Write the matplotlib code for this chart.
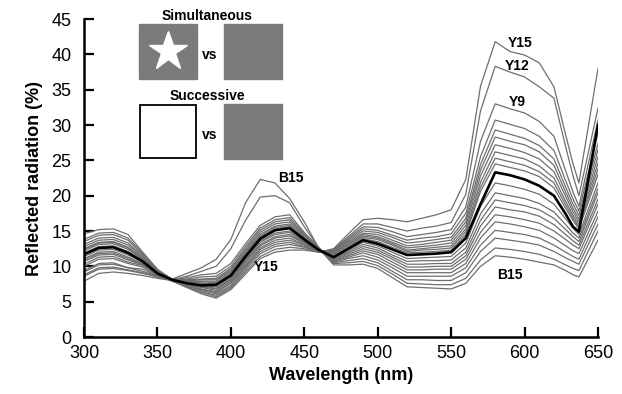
#!/usr/bin/env python3
import matplotlib
matplotlib.use("Agg")
import matplotlib.pyplot as plt
from matplotlib.patches import Rectangle
from matplotlib.lines import Line2D

plt.rcParams.update({"font.family": ["Liberation Sans", "DejaVu Sans"], "font.size": 13})

# wavelength grid (nm)
WAVELENGTH = [300, 310, 320, 330, 340, 350, 360, 370, 380, 390, 400, 410, 420, 430, 440,
              450, 460, 470, 480, 490, 500, 510, 520, 530, 540, 550, 560, 570, 580, 590,
              600, 610, 620, 628, 633, 637, 650]

# curves brighter than the reference at 580 nm (Y15 first)
YELLOW_SIDE = [
    [12.5, 13.4, 13.5, 12.7, 11.1, 9.2, 7.9, 7.0, 6.1, 5.5, 6.7, 8.9, 11.1, 12.0, 12.3,
     12.3, 12.0, 12.5, 14.6, 16.6, 16.8, 16.6, 16.3, 16.8, 17.3, 18.0, 22.3, 35.5, 41.8, 40.4,
     39.9, 38.8, 35.4, 28.6, 24.5, 21.8, 38.0],
    [14.6, 15.2, 15.3, 14.5, 12.0, 9.6, 8.1, 7.1, 6.3, 5.7, 6.9, 9.2, 11.4, 12.4, 12.7,
     12.5, 12.0, 12.4, 14.2, 16.0, 16.0, 15.5, 15.0, 15.4, 15.7, 16.2, 20.2, 32.0, 38.3, 37.5,
     36.8, 35.4, 33.8, 26.9, 22.8, 20.0, 32.4],
    [11.1, 12.0, 12.1, 11.3, 10.4, 8.9, 8.0, 7.2, 6.4, 5.9, 7.1, 9.5, 11.8, 12.8, 13.1,
     12.7, 12.1, 12.3, 14.0, 15.6, 15.5, 14.9, 14.2, 14.5, 14.8, 15.2, 18.4, 27.7, 33.0, 32.3,
     31.7, 30.5, 28.4, 23.5, 20.5, 18.5, 30.7],
    [13.5, 14.4, 14.5, 13.7, 11.6, 9.4, 8.1, 7.2, 6.6, 6.1, 7.3, 9.8, 12.1, 13.1, 13.4,
     12.8, 12.1, 12.2, 13.8, 15.3, 15.1, 14.4, 13.7, 14.0, 14.2, 14.6, 17.5, 25.5, 30.7, 30.1,
     29.5, 28.4, 26.4, 22.1, 19.5, 17.8, 28.9],
    [10.3, 11.3, 11.4, 10.6, 10.1, 8.8, 7.9, 7.3, 6.7, 6.3, 7.6, 10.0, 12.4, 13.4, 13.7,
     13.0, 12.1, 12.1, 13.6, 15.0, 14.8, 14.1, 13.3, 13.5, 13.8, 14.1, 16.8, 24.4, 29.3, 28.7,
     28.1, 27.1, 25.2, 21.2, 18.8, 17.2, 27.4],
    [12.8, 13.7, 13.8, 13.0, 11.3, 9.3, 8.0, 7.4, 6.8, 6.4, 7.7, 10.2, 12.6, 13.7, 14.0,
     13.1, 12.2, 12.0, 13.4, 14.7, 14.5, 13.7, 12.9, 13.1, 13.4, 13.7, 16.3, 23.6, 28.3, 27.7,
     27.2, 26.2, 24.3, 20.5, 18.2, 16.7, 26.5],
    [9.4, 10.4, 10.5, 9.8, 9.6, 8.6, 7.9, 7.4, 7.0, 6.6, 7.9, 10.5, 12.9, 14.0, 14.3,
     13.3, 12.2, 11.9, 13.2, 14.5, 14.2, 13.4, 12.6, 12.8, 13.0, 13.3, 15.8, 22.8, 27.2, 26.7,
     26.1, 25.2, 23.4, 19.9, 17.7, 16.3, 25.5],
    [13.1, 14.0, 14.1, 13.3, 11.4, 9.3, 8.1, 7.5, 7.1, 6.8, 8.1, 10.7, 13.1, 14.2, 14.5,
     13.4, 12.2, 11.8, 13.1, 14.3, 14.0, 13.2, 12.3, 12.5, 12.7, 12.9, 15.3, 21.9, 26.2, 25.7,
     25.2, 24.2, 22.5, 19.2, 17.2, 15.9, 24.6],
    [10.9, 11.8, 11.9, 11.1, 10.3, 8.9, 8.0, 7.6, 7.2, 6.9, 8.2, 10.9, 13.4, 14.5, 14.8,
     13.5, 12.2, 11.7, 12.9, 14.1, 13.8, 13.0, 12.1, 12.3, 12.4, 12.6, 14.9, 21.2, 25.3, 24.8,
     24.3, 23.4, 21.8, 18.7, 16.8, 15.6, 23.8],
    [7.9, 9.0, 9.2, 9.0, 8.7, 8.3, 8.0, 7.6, 7.3, 7.1, 8.4, 11.1, 13.6, 14.7, 15.0,
     13.6, 12.3, 11.5, 12.7, 13.9, 13.5, 12.7, 11.9, 12.0, 12.1, 12.3, 14.5, 20.6, 24.5, 24.0,
     23.5, 22.7, 21.1, 18.2, 16.5, 15.3, 23.0],
]

# reference (thick black) curve
REFERENCE = [11.7, 12.6, 12.7, 11.9, 10.7, 9.0, 8.1, 7.6, 7.3, 7.4, 8.7, 11.4, 13.9, 15.1, 15.4,
             13.8, 12.3, 11.3, 12.5, 13.7, 13.2, 12.4, 11.6, 11.7, 11.8, 12.0, 14.0, 18.8, 23.3, 22.9,
             22.3, 21.4, 20.0, 17.4, 15.6, 14.9, 30.0]

# curves darker than the reference at 580 nm (B15 last)
BLUE_SIDE = [
    [12.2, 13.1, 13.2, 12.4, 11.0, 9.1, 8.1, 7.8, 7.6, 7.4, 8.8, 11.5, 14.0, 15.2, 15.5,
     13.9, 12.3, 11.2, 12.3, 13.4, 12.9, 12.0, 11.1, 11.2, 11.3, 11.4, 13.3, 18.5, 21.8, 21.4,
     20.9, 20.2, 18.8, 16.7, 15.4, 14.5, 21.8],
    [8.8, 9.8, 9.9, 9.5, 9.1, 8.5, 8.0, 7.8, 7.6, 7.5, 8.9, 11.6, 14.1, 15.3, 15.6,
     13.9, 12.3, 11.1, 12.1, 13.1, 12.6, 11.6, 10.7, 10.8, 10.8, 10.9, 12.6, 17.4, 20.4, 20.0,
     19.6, 18.9, 17.7, 15.9, 14.7, 14.0, 21.0],
    [13.8, 14.7, 14.8, 14.0, 11.8, 9.5, 8.2, 7.9, 7.8, 7.7, 9.1, 11.8, 14.3, 15.5, 15.8,
     14.0, 12.4, 11.0, 11.9, 12.8, 12.3, 11.3, 10.3, 10.3, 10.4, 10.4, 12.0, 16.5, 19.4, 19.0,
     18.6, 18.0, 16.8, 15.2, 14.2, 13.5, 20.4],
    [10.0, 11.0, 11.1, 10.4, 9.9, 8.7, 8.0, 8.0, 7.9, 7.9, 9.3, 12.0, 14.5, 15.7, 16.0,
     14.1, 12.4, 10.9, 11.7, 12.5, 12.0, 11.0, 9.9, 9.9, 10.0, 10.0, 11.5, 15.7, 18.4, 18.0,
     17.7, 17.1, 15.9, 14.5, 13.6, 13.0, 19.5],
    [11.9, 12.8, 12.9, 12.1, 10.8, 9.1, 8.1, 8.0, 8.1, 8.1, 9.5, 12.2, 14.8, 16.0, 16.3,
     14.3, 12.5, 10.8, 11.5, 12.2, 11.7, 10.6, 9.5, 9.5, 9.6, 9.6, 11.0, 14.8, 17.3, 17.0,
     16.6, 16.1, 15.0, 13.8, 13.0, 12.5, 18.8],
    [8.6, 9.6, 9.7, 9.4, 9.0, 8.5, 8.0, 8.1, 8.2, 8.3, 9.7, 12.5, 15.1, 16.3, 16.6,
     14.4, 12.5, 10.7, 11.3, 11.9, 11.3, 10.2, 9.1, 9.1, 9.1, 9.1, 10.4, 14.0, 16.3, 16.0,
     15.6, 15.1, 14.0, 12.9, 12.2, 11.8, 17.8],
    [11.4, 12.3, 12.4, 11.6, 10.6, 9.0, 8.1, 8.2, 8.5, 8.6, 10.0, 12.8, 15.4, 16.6, 16.9,
     14.6, 12.6, 10.6, 11.1, 11.5, 10.9, 9.8, 8.6, 8.6, 8.6, 8.6, 9.8, 13.0, 15.1, 14.8,
     14.5, 14.0, 13.0, 12.0, 11.4, 11.0, 17.0],
    [10.7, 11.6, 11.7, 10.9, 10.2, 8.8, 8.0, 8.4, 8.8, 9.0, 10.4, 13.2, 15.8, 17.0, 17.3,
     14.8, 12.6, 10.5, 10.8, 11.1, 10.5, 9.3, 8.1, 8.1, 8.0, 8.0, 9.1, 12.1, 14.0, 13.7,
     13.4, 13.0, 12.1, 11.2, 10.7, 10.3, 16.0],
    [9.2, 10.2, 10.3, 9.8, 9.3, 8.6, 8.1, 8.6, 9.3, 10.0, 12.5, 16.5, 19.8, 20.0, 19.0,
     15.6, 12.6, 10.4, 10.5, 10.7, 10.1, 8.9, 7.6, 7.5, 7.4, 7.4, 8.3, 10.9, 12.6, 12.4,
     12.1, 11.7, 11.0, 10.2, 9.7, 9.4, 15.0],
    [12.4, 13.3, 13.4, 12.6, 11.0, 9.2, 8.2, 9.0, 9.8, 11.0, 13.8, 19.0, 22.3, 21.8, 19.6,
     16.3, 12.5, 10.2, 10.2, 10.3, 9.7, 8.4, 7.1, 7.0, 6.9, 6.8, 7.6, 10.0, 11.5, 11.3,
     11.0, 10.6, 10.2, 9.4, 8.8, 8.5, 13.7],
]

# curve labels: (text, wavelength, reflectance)
CURVE_LABELS = [("Y15", 597, 41.6), ("Y12", 595, 38.3), ("Y9", 595, 33.3),
                ("B15", 590, 8.8), ("B15", 441, 22.5), ("Y15", 424, 9.9)]

W, H = 622, 394
fig = plt.figure(figsize=(W / 100, H / 100), dpi=100)
ax = fig.add_axes([84 / W, 57 / H, 514 / W, 318 / H])

for spec in YELLOW_SIDE + BLUE_SIDE:
    ax.plot(WAVELENGTH, spec, color="#6e6e6e", lw=0.9)
ax.plot(WAVELENGTH, REFERENCE, color="black", lw=1.9, zorder=3)

for txt, x, y in CURVE_LABELS:
    ax.text(x, y, txt, fontsize=10, fontweight="bold", ha="center", va="center")

ax.set_xlim(300, 650)
ax.set_ylim(0, 45)
ax.set_xticks(range(300, 651, 50))
ax.set_yticks(range(0, 46, 5))
for s in ("top", "right"):
    ax.spines[s].set_visible(False)
for s in ("left", "bottom"):
    ax.spines[s].set_linewidth(1.8)
ax.tick_params(direction="in", length=7, width=1.6, labelsize=13)
ax.tick_params(axis="x", pad=6)
ax.tick_params(axis="y", pad=9)
ax.set_xlabel("Wavelength (nm)", fontweight="bold", fontsize=13, labelpad=3)
ax.set_ylabel("Reflected radiation (%)", fontweight="bold", fontsize=13, labelpad=6)

# inset: stimulus sketch (figure pixel coordinates, origin top-left)
def fx(px):
    return px / W

def fy(py):
    return 1 - py / H

GRAY = "#7b7b7b"
fig.add_artist(Rectangle((fx(139), fy(79)), 58 / W, 55 / H, transform=fig.transFigure,
                         facecolor=GRAY, edgecolor=GRAY))
fig.add_artist(Rectangle((fx(224), fy(79)), 58 / W, 55 / H, transform=fig.transFigure,
                         facecolor=GRAY, edgecolor=GRAY))
fig.add_artist(Line2D([fx(168)], [fy(51)], transform=fig.transFigure, marker="*",
                      ms=29.5, color="white", mec="white", lw=0))
fig.add_artist(Rectangle((fx(140), fy(158)), 56 / W, 53 / H, transform=fig.transFigure,
                         facecolor="white", edgecolor="black", lw=1.3))
fig.add_artist(Rectangle((fx(224), fy(159)), 58 / W, 55 / H, transform=fig.transFigure,
                         facecolor=GRAY, edgecolor=GRAY))
fig.text(fx(207), fy(16), "Simultaneous", fontsize=10, fontweight="bold", ha="center", va="center")
fig.text(fx(207), fy(96), "Successive", fontsize=10, fontweight="bold", ha="center", va="center")
fig.text(fx(210), fy(55), "vs", fontsize=10, fontweight="bold", ha="center", va="center")
fig.text(fx(210), fy(135), "vs", fontsize=10, fontweight="bold", ha="center", va="center")

fig.savefig("out.png", dpi=100)
